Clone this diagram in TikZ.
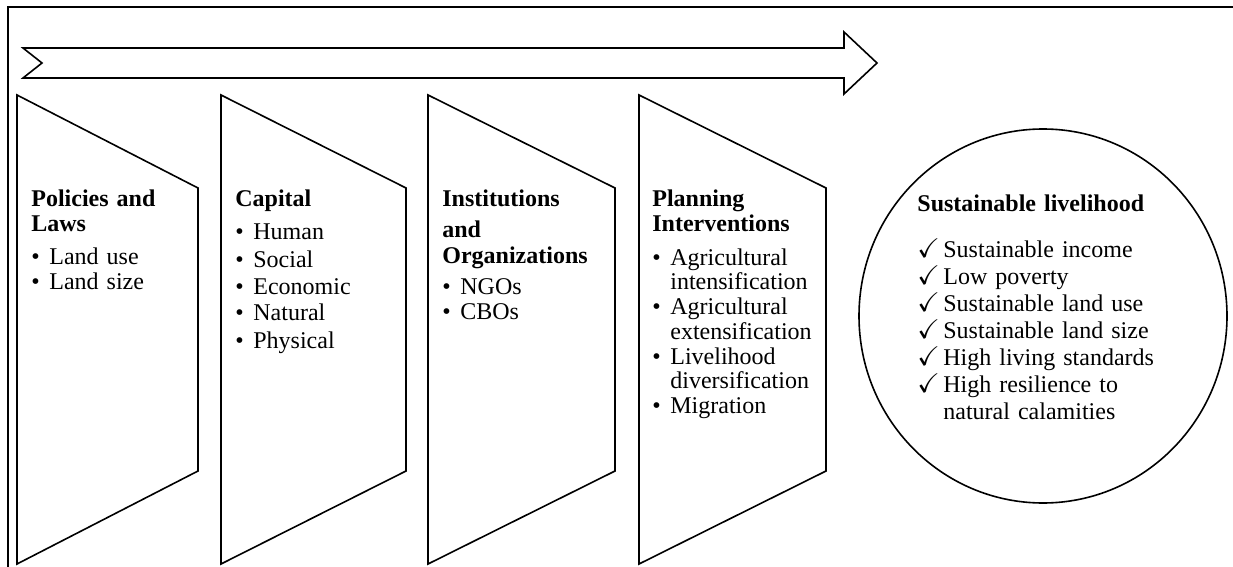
\documentclass[tikz,border=0pt]{standalone}
\usepackage{fontspec}
\setmainfont{Liberation Serif}
\usepackage{amssymb}

% list entries with a hanging mark
\newcommand{\bul}[1]{\par\noindent\hangindent=9pt\hbox to 9pt{\textbullet\hfil}#1\par}
\newcommand{\chk}[1]{\par\noindent\hangindent=13pt%
	\hbox to 13pt{\fontsize{13.5}{13.5}\selectfont$\checkmark$\hfil}#1\par}
\newcommand{\gap}[1]{\par\vskip #1}
\newcommand{\lsp}[1]{\fontsize{12}{#1}\selectfont}

\tikzset{
  panel/.style = {line width = 0.8pt, line join = miter},
  txt/.style = {anchor = base west, inner sep = 0, align = left, text width = 92pt}
}

\begin{document}
\begin{tikzpicture}[x = 0.5pt, y = -0.5pt]

	\useasboundingbox (0, 0) rectangle (1233, 567);
	
	% page frame
	\draw[line width = 1.1pt] (8, 567) -- (8, 7) -- (1233, 7);
	
	% long arrow
	\draw[panel] (23, 48) -- (844, 48) -- (844, 32) -- (877, 63) -- (844, 94)
		-- (844, 78) -- (23, 78) -- (42, 63) -- cycle;
	
	% the four panels
	\draw[panel] (17, 95) -- (198, 188) -- (198, 471) -- (17, 564) -- cycle;
	\draw[panel] (221, 95) -- (406, 188) -- (406, 471) -- (221, 564) -- cycle;
	\draw[panel] (428, 95) -- (615, 188) -- (615, 471) -- (428, 564) -- cycle;
	\draw[panel] (639, 95) -- (826, 188) -- (826, 471) -- (639, 564) -- cycle;
	
	\node[txt, font = \lsp{12.75pt}] (laws) at (31, 206)
		{\textbf{Policies and}\\\textbf{Laws}\gap{3.75pt}
		\bul{Land use}\bul{Land size}};
	
	\node[txt, font = \lsp{13.5pt}] (capital) at (235, 206)
		{\textbf{Capital}\gap{3.5pt}
		\bul{Human}\bul{Social}\bul{Economic}\bul{Natural}\bul{Physical}};
	
	\node[txt, font = \lsp{12.5pt}] (inst) at (442, 206)
		{\textbf{Institutions}\gap{3.5pt}
		\textbf{and}\\\textbf{Organizations}\gap{3pt}
		\bul{NGOs}\bul{CBOs}};
	
	\node[txt, font = \lsp{12.4pt}] (plan) at (652, 206)
		{\textbf{Planning}\gap{0.6pt}\textbf{Interventions}\gap{4.1pt}
		\bul{Agricultural\newline intensification}
		\bul{Agricultural\newline extensification}
		\bul{Livelihood\newline diversification}
		\bul{Migration}};
	
	% outcome
	\draw[panel] (1043, 316) ellipse [x radius = 92pt, y radius = 93.5pt];
	\node[txt, text width = 150pt, font = \lsp{13.5pt}] (sl) at (917, 212)
		{\textbf{Sustainable livelihood}\gap{9.5pt}
		\chk{Sustainable income}
		\chk{Low poverty}
		\chk{Sustainable land use}
		\chk{Sustainable land size}
		\chk{High living standards}
		\chk{High resilience to\newline natural calamities}};

\end{tikzpicture}
\end{document}
